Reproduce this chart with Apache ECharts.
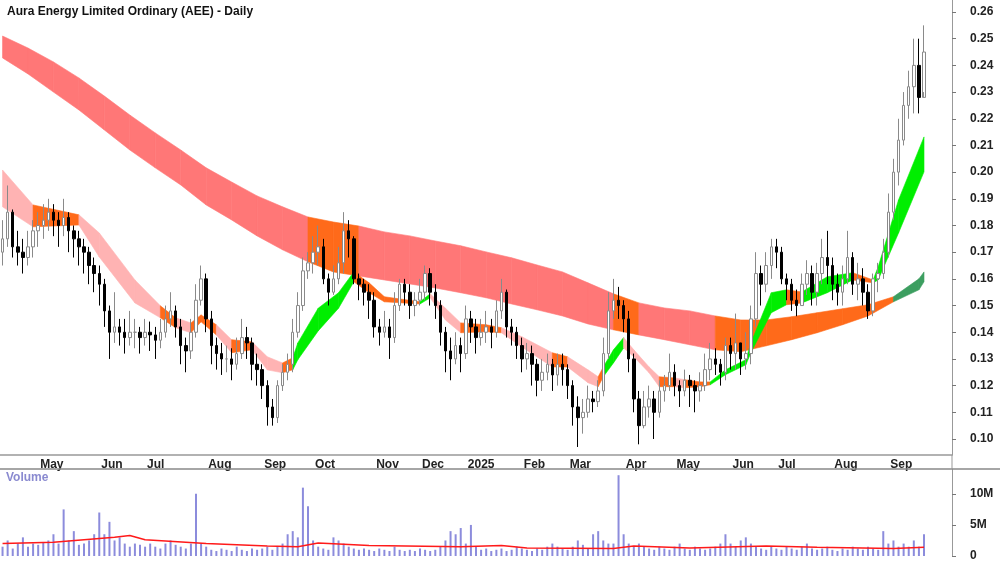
<!DOCTYPE html>
<html><head><meta charset="utf-8">
<script src="https://cdn.jsdelivr.net/npm/echarts@6/dist/echarts.min.js"></script>
<style>html,body{margin:0;padding:0;background:#fff}#c{width:1000px;height:562px}</style>
</head><body><div id="c"></div>
<script>
// prices in thousandths of a dollar (2-trading-day bars)
const closes = [175,185,172,170,168,172,178,180,182,185, 182,180,183,178,175,172,170,165,162,158, 148,140,142,140,138,140,140,138,140,139, 137,140,145,148,142,135,133,140,152,160, 145,135,132,130,130,128,132,138,136,128, 126,120,112,108,120,125,128,140,150,163, 166,170,172,160,155,160,166,178,175,160, 158,155,152,142,140,142,138,150,158,155, 150,152,155,162,155,150,140,133,130,135, 132,145,142,138,140,142,140,148,155,142, 140,135,130,132,128,122,125,128,124,128, 126,120,112,108,110,115,114,118,132,148, 152,150,145,130,115,105,112,115,110,118, 120,125,120,118,122,120,118,120,126,130, 128,125,135,132,136,130,132,145,162,158, 165,172,170,160,158,152,150,158,162,155, 162,168,165,158,155,160,168,158,160,155, 148,160,162,170,185,200,212,225,232,240, 228,245];
const highs = [182,195,186,178,175,178,182,185,188,190, 188,185,190,185,180,178,175,172,168,165, 160,150,155,145,145,148,145,142,145,144, 142,145,150,155,150,145,138,145,158,165, 162,148,138,136,135,134,138,145,142,138, 132,128,122,115,122,128,132,145,155,168, 170,176,180,175,162,165,172,185,182,176, 162,160,158,155,145,148,145,155,160,160, 158,155,160,165,164,158,152,142,138,140, 138,150,148,145,145,148,145,152,160,156, 145,142,138,136,135,130,130,132,130,132, 132,128,122,116,115,120,118,122,138,155, 160,157,152,148,132,118,118,120,118,122, 124,132,128,122,126,124,122,125,132,136, 134,130,138,138,147,135,140,150,170,165, 170,175,175,172,162,160,156,162,167,165, 166,175,178,168,162,165,178,170,166,164, 158,162,166,175,192,205,220,230,238,250, 250,255];
const lows = [165,172,168,165,162,165,168,172,175,178, 176,172,176,170,168,165,162,158,155,150, 142,130,136,135,132,135,134,132,135,133, 130,134,138,142,138,128,125,130,138,150, 140,128,126,124,125,122,126,130,130,122, 120,115,105,105,106,118,122,125,138,148, 160,162,165,158,150,154,158,162,168,158, 152,150,145,138,135,138,130,136,148,150, 145,146,150,152,150,145,135,125,122,128, 125,130,136,132,135,136,134,138,145,138, 135,130,125,126,120,116,118,122,118,120, 120,115,105,97,102,108,110,112,116,130, 145,145,140,125,110,98,104,108,100,108, 114,118,116,112,116,112,110,114,118,122, 124,120,122,126,126,124,126,128,142,150, 155,160,164,158,152,148,146,150,154,150, 150,158,158,152,150,150,158,154,152,150, 145,146,155,160,168,182,195,210,220,222, 222,230];
const firstOpen = 170;
// volume in millions
const volumes = [1.5,2.5,1.2,2.0,3.0,1.5,2.0,1.8,2.2,2.5, 3.5,2.0,7.5,2.5,4.0,1.8,2.0,2.5,3.5,7.0, 3.5,5.5,2.5,3.0,2.0,1.5,2.0,1.8,1.5,2.0, 1.5,1.2,2.0,2.5,1.8,1.5,1.2,2.0,10.0,2.0, 1.5,1.0,0.8,1.2,1.0,0.8,1.5,1.0,0.8,1.2, 1.0,1.2,1.5,1.0,1.5,2.0,3.5,4.0,3.0,11.0, 8.0,2.5,1.5,1.2,1.0,3.0,2.5,2.0,1.5,1.2, 1.0,1.2,1.0,0.8,1.2,1.0,0.8,1.5,1.0,0.8, 1.0,0.8,1.2,1.0,0.8,1.0,1.5,2.5,4.0,3.5, 4.5,2.0,5.0,1.5,1.0,1.2,0.8,1.0,1.2,0.8, 1.0,1.5,1.2,1.0,0.8,1.2,1.0,1.5,2.0,1.5, 1.2,1.0,1.5,2.5,1.8,1.2,3.5,4.0,2.5,2.0, 2.0,13.0,3.5,2.0,1.5,2.0,1.5,1.2,1.0,1.5, 1.2,1.0,1.5,2.0,1.2,1.0,1.5,1.2,1.0,1.2, 1.5,2.0,3.5,2.0,1.5,2.5,3.0,2.0,1.5,1.2, 1.0,1.5,1.2,1.0,1.5,1.2,1.0,1.5,2.0,1.2, 1.0,1.2,1.5,1.0,0.8,1.2,1.0,1.5,1.2,1.0, 1.5,1.2,1.0,4.0,2.0,2.5,1.5,2.0,1.5,2.5, 1.5,3.5];
const volMA = [[0,2.0],[10,2.2],[22,3.0],[25,3.3],[28,2.6],[40,2.0],[52,1.6],[58,1.5],[62,2.1],[72,1.7],[90,1.5],[98,1.7],[103,1.3],[120,1.2],[124,1.6],[135,1.3],[150,1.6],[160,1.4],[175,1.2],[181,1.4]];
// long-term band knots: [barIndex, upper, lower, colour of following segment]
const longBand = [[0,251.0,242.8,'r'],[5,246.5,236.8,'r'],[10,241.3,230.0,'r'],[15,235.3,223.3,'r'],[20,228.5,215.8,'r'],[25,221.4,208.3,'r'],[30,214.7,201.6,'r'],[35,208.3,195.2,'r'],[40,201.6,187.7,'r'],[45,196.3,182.1,'r'],[50,191.1,176.1,'r'],[55,187.0,170.9,'r'],[60,183.2,166.4,'o'],[65,181.3,162.6,'o'],[70,179.8,161.1,'r'],[75,177.6,159.6,'r'],[80,176.1,158.1,'r'],[85,174.2,156.6,'r'],[90,172.4,154.8,'r'],[95,170.1,152.9,'r'],[100,167.9,150.6,'r'],[105,165.2,148.4,'r'],[110,162.6,146.1,'r'],[115,158.5,143.1,'r'],[120,154.4,140.9,'o'],[125,151.0,139.0,'r'],[130,149.1,137.2,'r'],[135,148.0,135.3,'r'],[140,146.1,133.4,'o'],[145,144.6,132.7,'o'],[150,144.6,134.9,'o'],[155,145.8,137.2,'o'],[160,147.3,139.8,'o'],[165,148.8,142.8,'o'],[170,150.3,146.1,'o'],[175,153.3,151.4,'g'],[180,160.0,155.9,'g'],[181,162.6,158.9,'g']];
// short-term band knots
const shortBand = [[0,200.8,187.0,'p'],[6,187.7,179.5,'o'],[15,184.0,180.2,'p'],[19,177.2,168.2,'p'],[26,159.6,151.0,'p'],[31,149.9,145.4,'o'],[34,145.4,141.7,'p'],[37,143.5,139.8,'o'],[39,146.5,143.9,'o'],[42,142.8,139.0,'p'],[45,137.2,132.3,'o'],[49,136.4,133.4,'p'],[52,130.8,125.9,'p'],[55,128.5,124.8,'o'],[57,130.4,125.9,'G'],[58,136.0,129.7,'G'],[62,149.0,140.5,'G'],[66,154.8,149.0,'G'],[69,162.6,158.9,'o'],[72,158.5,154.8,'o'],[75,153.3,151.4,'o'],[82,151.4,150.6,'G'],[84,154.4,152.9,'p'],[87,149.0,144.6,'p'],[90,143.5,139.8,'o'],[95,142.8,140.2,'o'],[98,141.7,139.8,'p'],[102,138.3,134.5,'p'],[108,132.3,127.0,'o'],[111,130.8,127.0,'p'],[115,125.9,121.1,'p'],[117,123.3,119.6,'o'],[118,127.0,123.3,'G'],[120,133.4,128.5,'G'],[122,138.0,134.1,'p'],[124,133.4,130.8,'p'],[127,127.0,124.8,'p'],[129,123.3,119.6,'o'],[132,122.9,119.6,'p'],[134,122.2,119.2,'o'],[137,121.4,119.6,'o'],[139,121.4,120.3,'G'],[142,125.9,124.1,'G'],[146,129.7,127.8,'G'],[147,136.0,132.3,'G'],[151,154.8,147.3,'G'],[154,155.9,150.3,'o'],[157,155.1,151.0,'G'],[162,160.8,154.8,'G'],[167,162.3,159.6,'o'],[171,159.6,158.5,'G'],[172,164.5,159.6,'G'],[176,189.6,177.2,'G'],[181,213.2,200.1,'G']];
const monthLabels = {7:'May',19:'Jun',28:'Jul',40:'Aug',51:'Sep',61:'Oct',73:'Nov',82:'Dec',91:'2025',102:'Feb',111:'Mar',122:'Apr',132:'May',143:'Jun',152:'Jul',163:'Aug',174:'Sep'};
const priceTicks = [100,110,120,130,140,150,160,170,180,190,200,210,220,230,240,250,260];

const N = 187;
const cats = Array.from({length:N},(_,i)=>String(i));
const candles = closes.map((c,i)=>[i===0?firstOpen:closes[i-1], c, lows[i], highs[i]]);
const COLORS = {r:'#ff7777', o:'#ff6a1a', g:'#3c9e60', p:'#ffb3b3', G:'#00ee00'};
function segs(band){const out=[];for(let k=0;k<band.length-1;k++){const a=band[k],b=band[k+1];out.push([a[0],a[1],a[2],b[0],b[1],b[2],a[3]]);}return out;}
function bandSeries(band){
  const sg = segs(band);
  return {type:'custom',xAxisIndex:0,yAxisIndex:0,z:1,silent:true,
    data:sg,encode:{x:[0,3],y:[1,2,4,5]},
    renderItem:function(params,api){
      const s=sg[params.dataIndex];
      const p1=api.coord([s[0],s[1]]),p2=api.coord([s[3],s[4]]),p3=api.coord([s[3],s[5]]),p4=api.coord([s[0],s[2]]);
      return {type:'polygon',shape:{points:[p1,p2,p3,p4]},style:{fill:COLORS[s[6]],stroke:COLORS[s[6]],lineWidth:0.6}};
    }};
}
const isMonth = (i)=>monthLabels[i]!==undefined;
const chart = echarts.init(document.getElementById('c'));
chart.setOption({
  animation:false,
  title:{text:'Aura Energy Limited Ordinary (AEE) - Daily',left:2,top:1,textStyle:{fontSize:12,fontWeight:'bold',color:'#111',fontFamily:'Liberation Sans'}},
  grid:[{left:0,right:48,top:0,height:455},{left:0,right:48,top:469,bottom:5}],
  xAxis:[
    {type:'category',data:cats,gridIndex:0,boundaryGap:true,
     axisLine:{lineStyle:{color:'#999',width:1.5}},
     axisTick:{alignWithLabel:true,interval:(i)=>isMonth(i),length:4,lineStyle:{color:'#777'}},
     axisLabel:{interval:(i)=>isMonth(i),formatter:(v,i)=>monthLabels[i]||'',align:'left',padding:[0,0,0,2],margin:4,fontSize:12,fontWeight:'bold',color:'#222',fontFamily:'Liberation Sans'},
     splitLine:{show:false}},
    {type:'category',data:cats,gridIndex:1,position:'top',boundaryGap:true,
     axisLine:{show:false},axisTick:{show:false},axisLabel:{show:false}}
  ],
  yAxis:[
    {type:'value',gridIndex:0,position:'right',min:94,max:264.5,
     axisLine:{show:true,lineStyle:{color:'#999'}},
     axisTick:{show:true,customValues:priceTicks,length:4,lineStyle:{color:'#777'}},
     axisLabel:{customValues:priceTicks,formatter:(v)=>(v/1000).toFixed(2),margin:18,fontSize:12,fontWeight:'bold',color:'#222',fontFamily:'Liberation Sans'},
     splitLine:{show:false}},
    {type:'value',gridIndex:1,position:'right',min:0,max:14,
     axisLine:{show:true,lineStyle:{color:'#999'}},
     axisTick:{show:true,customValues:[0,5,10],length:4,lineStyle:{color:'#777'}},
     axisLabel:{customValues:[0,5,10],formatter:(v)=>v===0?'0':v+'M',margin:18,fontSize:12,fontWeight:'bold',color:'#222',fontFamily:'Liberation Sans'},
     splitLine:{show:false}}
  ],
  graphic:[
    {type:'line',shape:{x1:0,y1:469,x2:1000,y2:469},style:{stroke:'#888',lineWidth:1.5},z:10},
    {type:'line',shape:{x1:952,y1:455,x2:952,y2:469},style:{stroke:'#999',lineWidth:1},z:10},
    {type:'text',left:6,top:472,style:{text:'Volume',fill:'#8a8ad0',font:'bold 12px Liberation Sans'}}
  ],
  series:[
    bandSeries(longBand),
    bandSeries(shortBand),
    {type:'candlestick',xAxisIndex:0,yAxisIndex:0,z:3,data:candles,barWidth:3,
     itemStyle:{color:'#ffffff',color0:'#000000',borderColor:'#8a8a8a',borderColor0:'#000000',borderWidth:1}},
    {type:'bar',xAxisIndex:1,yAxisIndex:1,data:volumes,barWidth:2,itemStyle:{color:'#8c8cdc'}},
    {type:'line',xAxisIndex:1,yAxisIndex:1,data:volMA,symbol:'none',lineStyle:{color:'#ff1a1a',width:1.5},z:4}
  ]
});
</script></body></html>
